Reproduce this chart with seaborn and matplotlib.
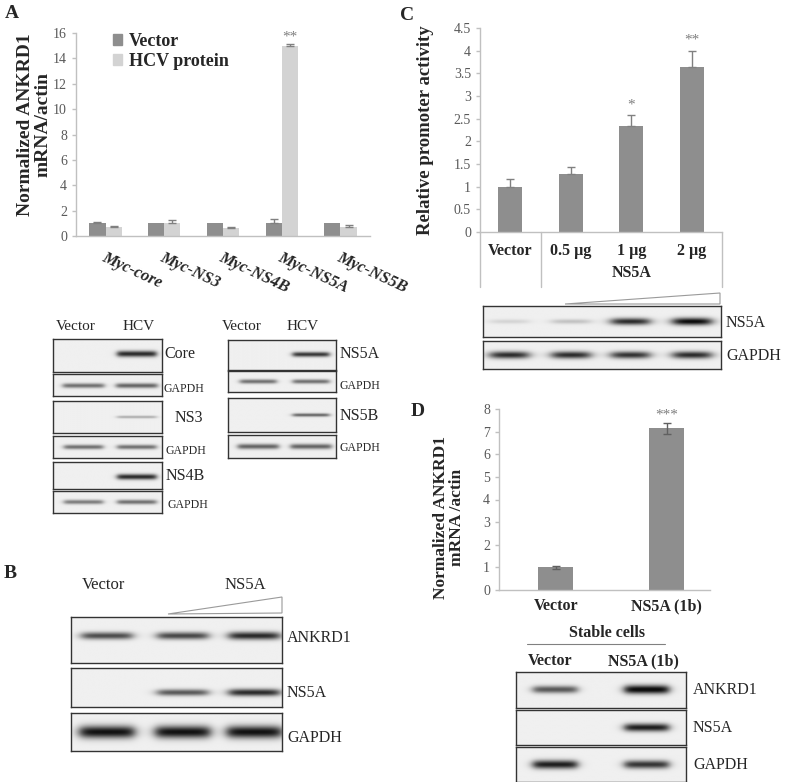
import numpy as np
import pandas as pd
import matplotlib
matplotlib.use("Agg")
import matplotlib.pyplot as plt
import seaborn as sns
from matplotlib.patches import Patch, Polygon

# ---------------- data ----------------
a_constructs = ["Myc-core", "Myc-NS3", "Myc-NS4B", "Myc-NS5A", "Myc-NS5B"]
a_groups = ["Vector", "HCV protein"]
a_vector = [1.0, 1.0, 1.0, 1.0, 1.0]
a_vector_err = [0.12, 0.0, 0.0, 0.35, 0.0]
a_hcv = [0.72, 1.0, 0.63, 15.0, 0.72]
a_hcv_err = [0.05, 0.3, 0.05, 0.15, 0.13]

c_doses = ["Vector", "0.5 µg", "1 µg", "2 µg"]
c_activity = [1.0, 1.28, 2.33, 3.65]
c_err = [0.16, 0.16, 0.25, 0.35]
c_stars = ["", "", "*", "**"]

d_cells = ["Vector", "NS5A (1b)"]
d_mrna = [1.0, 7.15]
d_err = [0.05, 0.25]

# band strengths for the western blots (0 = no band, 1 = dark band)
a_core = [0.0, 0.85]
a_core_gapdh = [0.55, 0.6]
a_ns3 = [0.0, 0.3]
a_ns3_gapdh = [0.55, 0.55]
a_ns4b = [0.0, 0.85]
a_ns4b_gapdh = [0.5, 0.55]
a_ns5a = [0.0, 0.8]
a_ns5a_gapdh = [0.55, 0.55]
a_ns5b = [0.0, 0.6]
a_ns5b_gapdh = [0.6, 0.6]

b_ankrd1 = [0.7, 0.72, 0.85]
b_ns5a = [0.0, 0.65, 0.85]
b_gapdh = [0.95, 0.95, 0.95]

c_ns5a_blot = [0.12, 0.2, 0.85, 1.0]
c_gapdh_blot = [0.85, 0.85, 0.82, 0.85]

d_ankrd1 = [0.65, 1.0]
d_ns5a_blot = [0.0, 0.9]
d_gapdh_blot = [0.9, 0.8]

DARK = "#8e8e8e"
LIGHT = "#d3d3d3"
AXC = "#c0c0c0"
TXT = "#595959"

W, H = 787, 782

sns.set_style("white")
plt.rcParams["font.family"] = ["Liberation Serif", "DejaVu Serif"]

fig = plt.figure(figsize=(W / 100, H / 100), dpi=100)


def box(x0, y0, x1, y1):
    return [x0 / W, 1 - y1 / H, (x1 - x0) / W, (y1 - y0) / H]


def style_axes(ax):
    sns.despine(ax=ax)
    for s in ("left", "bottom"):
        ax.spines[s].set_color(AXC)
        ax.spines[s].set_linewidth(1)
    ax.tick_params(axis="y", colors=AXC, labelcolor=TXT, labelsize=10,
                   length=3, width=1, direction="out", left=True)
    ax.set_xlabel("")


def blot(x0, y0, x1, y1, lanes, strengths, yc=0.5, thick=0.12, hw=0.12):
    ax = fig.add_axes(box(x0, y0, x1, y1))
    xs = np.linspace(0, 1, 300)
    ys = np.linspace(0, 1, 80)
    X, Y = np.meshgrid(xs, ys)
    img = np.full(X.shape, 0.94)
    for cx, s in zip(lanes, strengths):
        if s <= 0:
            continue
        ex = 1 / (1 + np.exp((np.abs(X - cx) - hw) / 0.015))
        ey = np.exp(-((Y - yc) / (thick * (0.55 + 0.45 * s))) ** 2)
        img -= 0.92 * s * ex * ey
    ax.imshow(np.clip(img, 0.05, 1), cmap="gray", vmin=0, vmax=1,
              extent=[0, 1, 1, 0], aspect="auto", interpolation="bilinear")
    ax.set_xticks([])
    ax.set_yticks([])
    for s in ax.spines.values():
        s.set_color("#333333")
        s.set_linewidth(1)
    return ax


# ---------------- panel A chart ----------------
df_a = pd.DataFrame({
    "construct": a_constructs * 2,
    "group": [a_groups[0]] * len(a_constructs) + [a_groups[1]] * len(a_constructs),
    "value": a_vector + a_hcv,
})
ax_a = fig.add_axes(box(76, 33, 370, 236))
sns.barplot(data=df_a, x="construct", y="value", hue="group",
            palette=[DARK, LIGHT], width=0.55, gap=0, errorbar=None,
            linewidth=0, legend=False, ax=ax_a)
for cont, errs in zip(ax_a.containers, [a_vector_err, a_hcv_err]):
    for bar, e in zip(cont, errs):
        if e > 0:
            ax_a.errorbar(bar.get_x() + bar.get_width() / 2, bar.get_height(),
                          yerr=[[0], [e]], color="#808080", lw=1, capsize=3)
ns5a_bar = ax_a.containers[1][3]
ax_a.text(ns5a_bar.get_x() + ns5a_bar.get_width() / 2, a_hcv[3] + a_hcv_err[3] + 0.05,
          "**", ha="center", va="bottom", color="#7f7f7f", fontsize=11)
ax_a.set_ylim(0, 16)
ax_a.set_yticks(range(0, 17, 2))
style_axes(ax_a)
ax_a.set_ylabel("Normalized ANKRD1\nmRNA/actin", fontsize=14, fontweight="bold",
                linespacing=1.0)
ax_a.yaxis.set_label_coords(-0.085, 0.55)
ax_a.tick_params(axis="x", length=0, pad=10)
ax_a.set_xticks(range(len(a_constructs)))
ax_a.set_xticklabels(a_constructs, rotation=-25, ha="left", va="top",
                     rotation_mode="anchor", fontsize=12, fontweight="bold",
                     fontstyle="italic")
ax_a.legend([Patch(color=DARK), Patch(color=LIGHT)], a_groups, loc="upper left",
            bbox_to_anchor=(0.07, 1.08), frameon=False, handlelength=0.5,
            handleheight=0.6, handletextpad=0.4, labelspacing=0.15,
            prop={"weight": "bold", "size": 13})

# ---------------- panel C chart ----------------
ax_c = fig.add_axes(box(480, 28, 722, 232))
sns.barplot(x=c_doses, y=c_activity, color=DARK, width=0.4, linewidth=0,
            errorbar=None, ax=ax_c)
for bar, v, e, st in zip(ax_c.patches, c_activity, c_err, c_stars):
    xc = bar.get_x() + bar.get_width() / 2
    ax_c.errorbar(xc, v, yerr=[[0], [e]], color="#808080", lw=1, capsize=3)
    if st:
        ax_c.text(xc, v + e + 0.08, st, ha="center", va="bottom",
                  color="#7f7f7f", fontsize=11)
ax_c.set_xlim(-0.5, 3.5)
ax_c.set_ylim(0, 4.5)
ax_c.set_yticks(np.arange(0, 4.51, 0.5))
ax_c.set_yticklabels([f"{t:g}" for t in np.arange(0, 4.51, 0.5)])
style_axes(ax_c)
ax_c.tick_params(axis="x", length=0, pad=8, labelsize=11.5)
for lab in ax_c.get_xticklabels():
    lab.set_fontweight("bold")
ax_c.set_ylabel("Relative promoter activity", fontsize=13.5, fontweight="bold", labelpad=14)
trans = ax_c.get_xaxis_transform()
for xv in (-0.5, 0.5, 3.5):
    ax_c.plot([xv, xv], [0, -0.27], transform=trans, color=AXC, lw=1, clip_on=False)
ax_c.text(2.0, -0.2, "NS5A", transform=trans, ha="center", va="center",
          fontsize=11.5, fontweight="bold")

# ---------------- panel D chart ----------------
ax_d = fig.add_axes(box(499, 409, 710, 590))
sns.barplot(x=d_cells, y=d_mrna, color=DARK, width=0.315, linewidth=0,
            errorbar=None, ax=ax_d)
for bar, v, e in zip(ax_d.patches, d_mrna, d_err):
    ax_d.errorbar(bar.get_x() + bar.get_width() / 2, v, yerr=e,
                  color="#606060", lw=1, capsize=3)
top = ax_d.patches[1]
ax_d.text(top.get_x() + top.get_width() / 2, d_mrna[1] + d_err[1] + 0.05, "***",
          ha="center", va="bottom", color="#7f7f7f", fontsize=11)
ax_d.set_xlim(-0.513, 1.388)
ax_d.set_ylim(0, 8)
ax_d.set_yticks(range(0, 9))
style_axes(ax_d)
ax_d.tick_params(axis="x", length=0, pad=6, labelsize=11.5)
for lab in ax_d.get_xticklabels():
    lab.set_fontweight("bold")
ax_d.set_ylabel("Normalized ANKRD1\nmRNA /actin", fontsize=12.5, fontweight="bold",
                linespacing=1.0)
ax_d.yaxis.set_label_coords(-0.16, 0.40)

# ---------------- western blots ----------------
two = [0.28, 0.77]
blot(53, 339, 162, 372, two, a_core, yc=0.45, thick=0.1, hw=0.18)
blot(53, 374, 162, 396, two, a_core_gapdh, yc=0.55, thick=0.13, hw=0.19)
blot(53, 401, 162, 433, two, a_ns3, yc=0.5, thick=0.06, hw=0.18)
blot(53, 436, 162, 458, two, a_ns3_gapdh, yc=0.5, thick=0.13, hw=0.18)
blot(53, 462, 162, 489, two, a_ns4b, yc=0.55, thick=0.11, hw=0.18)
blot(53, 491, 162, 513, two, a_ns4b_gapdh, yc=0.5, thick=0.13, hw=0.18)
blot(228, 340, 336, 370, two, a_ns5a, yc=0.48, thick=0.09, hw=0.17)
blot(228, 371, 336, 392, two, a_ns5a_gapdh, yc=0.5, thick=0.13, hw=0.17)
blot(228, 398, 336, 432, two, a_ns5b, yc=0.5, thick=0.06, hw=0.17)
blot(228, 435, 336, 458, two, a_ns5b_gapdh, yc=0.5, thick=0.14, hw=0.19)

three = [0.17, 0.53, 0.87]
blot(71, 617, 282, 663, three, b_ankrd1, yc=0.42, thick=0.09, hw=0.12)
blot(71, 668, 282, 707, three, b_ns5a, yc=0.63, thick=0.1, hw=0.12)
blot(71, 713, 282, 751, three, b_gapdh, yc=0.5, thick=0.17, hw=0.13)

four = [0.11, 0.37, 0.62, 0.88]
blot(483, 306, 721, 337, four, c_ns5a_blot, yc=0.5, thick=0.12, hw=0.08)
blot(483, 341, 721, 369, four, c_gapdh_blot, yc=0.5, thick=0.14, hw=0.08)

twod = [0.23, 0.77]
blot(516, 672, 686, 708, twod, d_ankrd1, yc=0.5, thick=0.12, hw=0.13)
blot(516, 710, 686, 745, twod, d_ns5a_blot, yc=0.5, thick=0.12, hw=0.13)
blot(516, 747, 686, 782, twod, d_gapdh_blot, yc=0.5, thick=0.13, hw=0.13)

# ---------------- overlay text ----------------
ov = fig.add_axes([0, 0, 1, 1], zorder=10)
ov.set_xlim(0, W)
ov.set_ylim(H, 0)
ov.axis("off")
ov.patch.set_alpha(0)

for lt, x, y in [("A", 12, 14), ("C", 407, 15), ("B", 10, 573), ("D", 418, 411)]:
    ov.text(x, y, lt, fontsize=14, fontweight="bold", ha="center", va="center")

lab = dict(ha="left", va="center", fontsize=11.5)
small = dict(ha="left", va="center", fontsize=8.5)
for t, x in [("Vector", 76), ("HCV", 139), ("Vector", 242), ("HCV", 303)]:
    ov.text(x, 327, t, ha="center", va="center", fontsize=11)
ov.text(164, 354, "Core", **lab)
ov.text(163, 389, "GAPDH", **small)
ov.text(175, 418, "NS3", **lab)
ov.text(165, 451, "GAPDH", **small)
ov.text(166, 476, "NS4B", **lab)
ov.text(167, 505, "GAPDH", **small)
ov.text(340, 354, "NS5A", **lab)
ov.text(340, 386, "GAPDH", **small)
ov.text(340, 416, "NS5B", **lab)
ov.text(340, 448, "GAPDH", **small)

ov.text(103, 585, "Vector", ha="center", va="center", fontsize=12)
ov.text(245, 585, "NS5A", ha="center", va="center", fontsize=12)
ov.add_patch(Polygon([[168, 614], [282, 597], [282, 613]], closed=True,
                     fill=False, edgecolor="#9a9a9a", lw=0.8))
ov.text(287, 638, "ANKRD1", **lab)
ov.text(287, 693, "NS5A", **lab)
ov.text(287, 738, "GAPDH", **lab)

ov.add_patch(Polygon([[565, 304], [720, 293], [720, 304]], closed=True,
                     fill=False, edgecolor="#9a9a9a", lw=0.8))
ov.text(726, 323, "NS5A", **lab)
ov.text(726, 356, "GAPDH", **lab)

ov.text(607, 633, "Stable cells", ha="center", va="center", fontsize=11.5,
        fontweight="bold")
ov.plot([527, 665], [644, 644], color="#808080", lw=0.8)
ov.text(550, 661, "Vector", ha="center", va="center", fontsize=11.5, fontweight="bold")
ov.text(643, 661, "NS5A (1b)", ha="center", va="center", fontsize=11.5,
        fontweight="bold")
ov.text(693, 690, "ANKRD1", **lab)
ov.text(693, 728, "NS5A", **lab)
ov.text(693, 765, "GAPDH", **lab)

fig.savefig("out.png", dpi=100)
